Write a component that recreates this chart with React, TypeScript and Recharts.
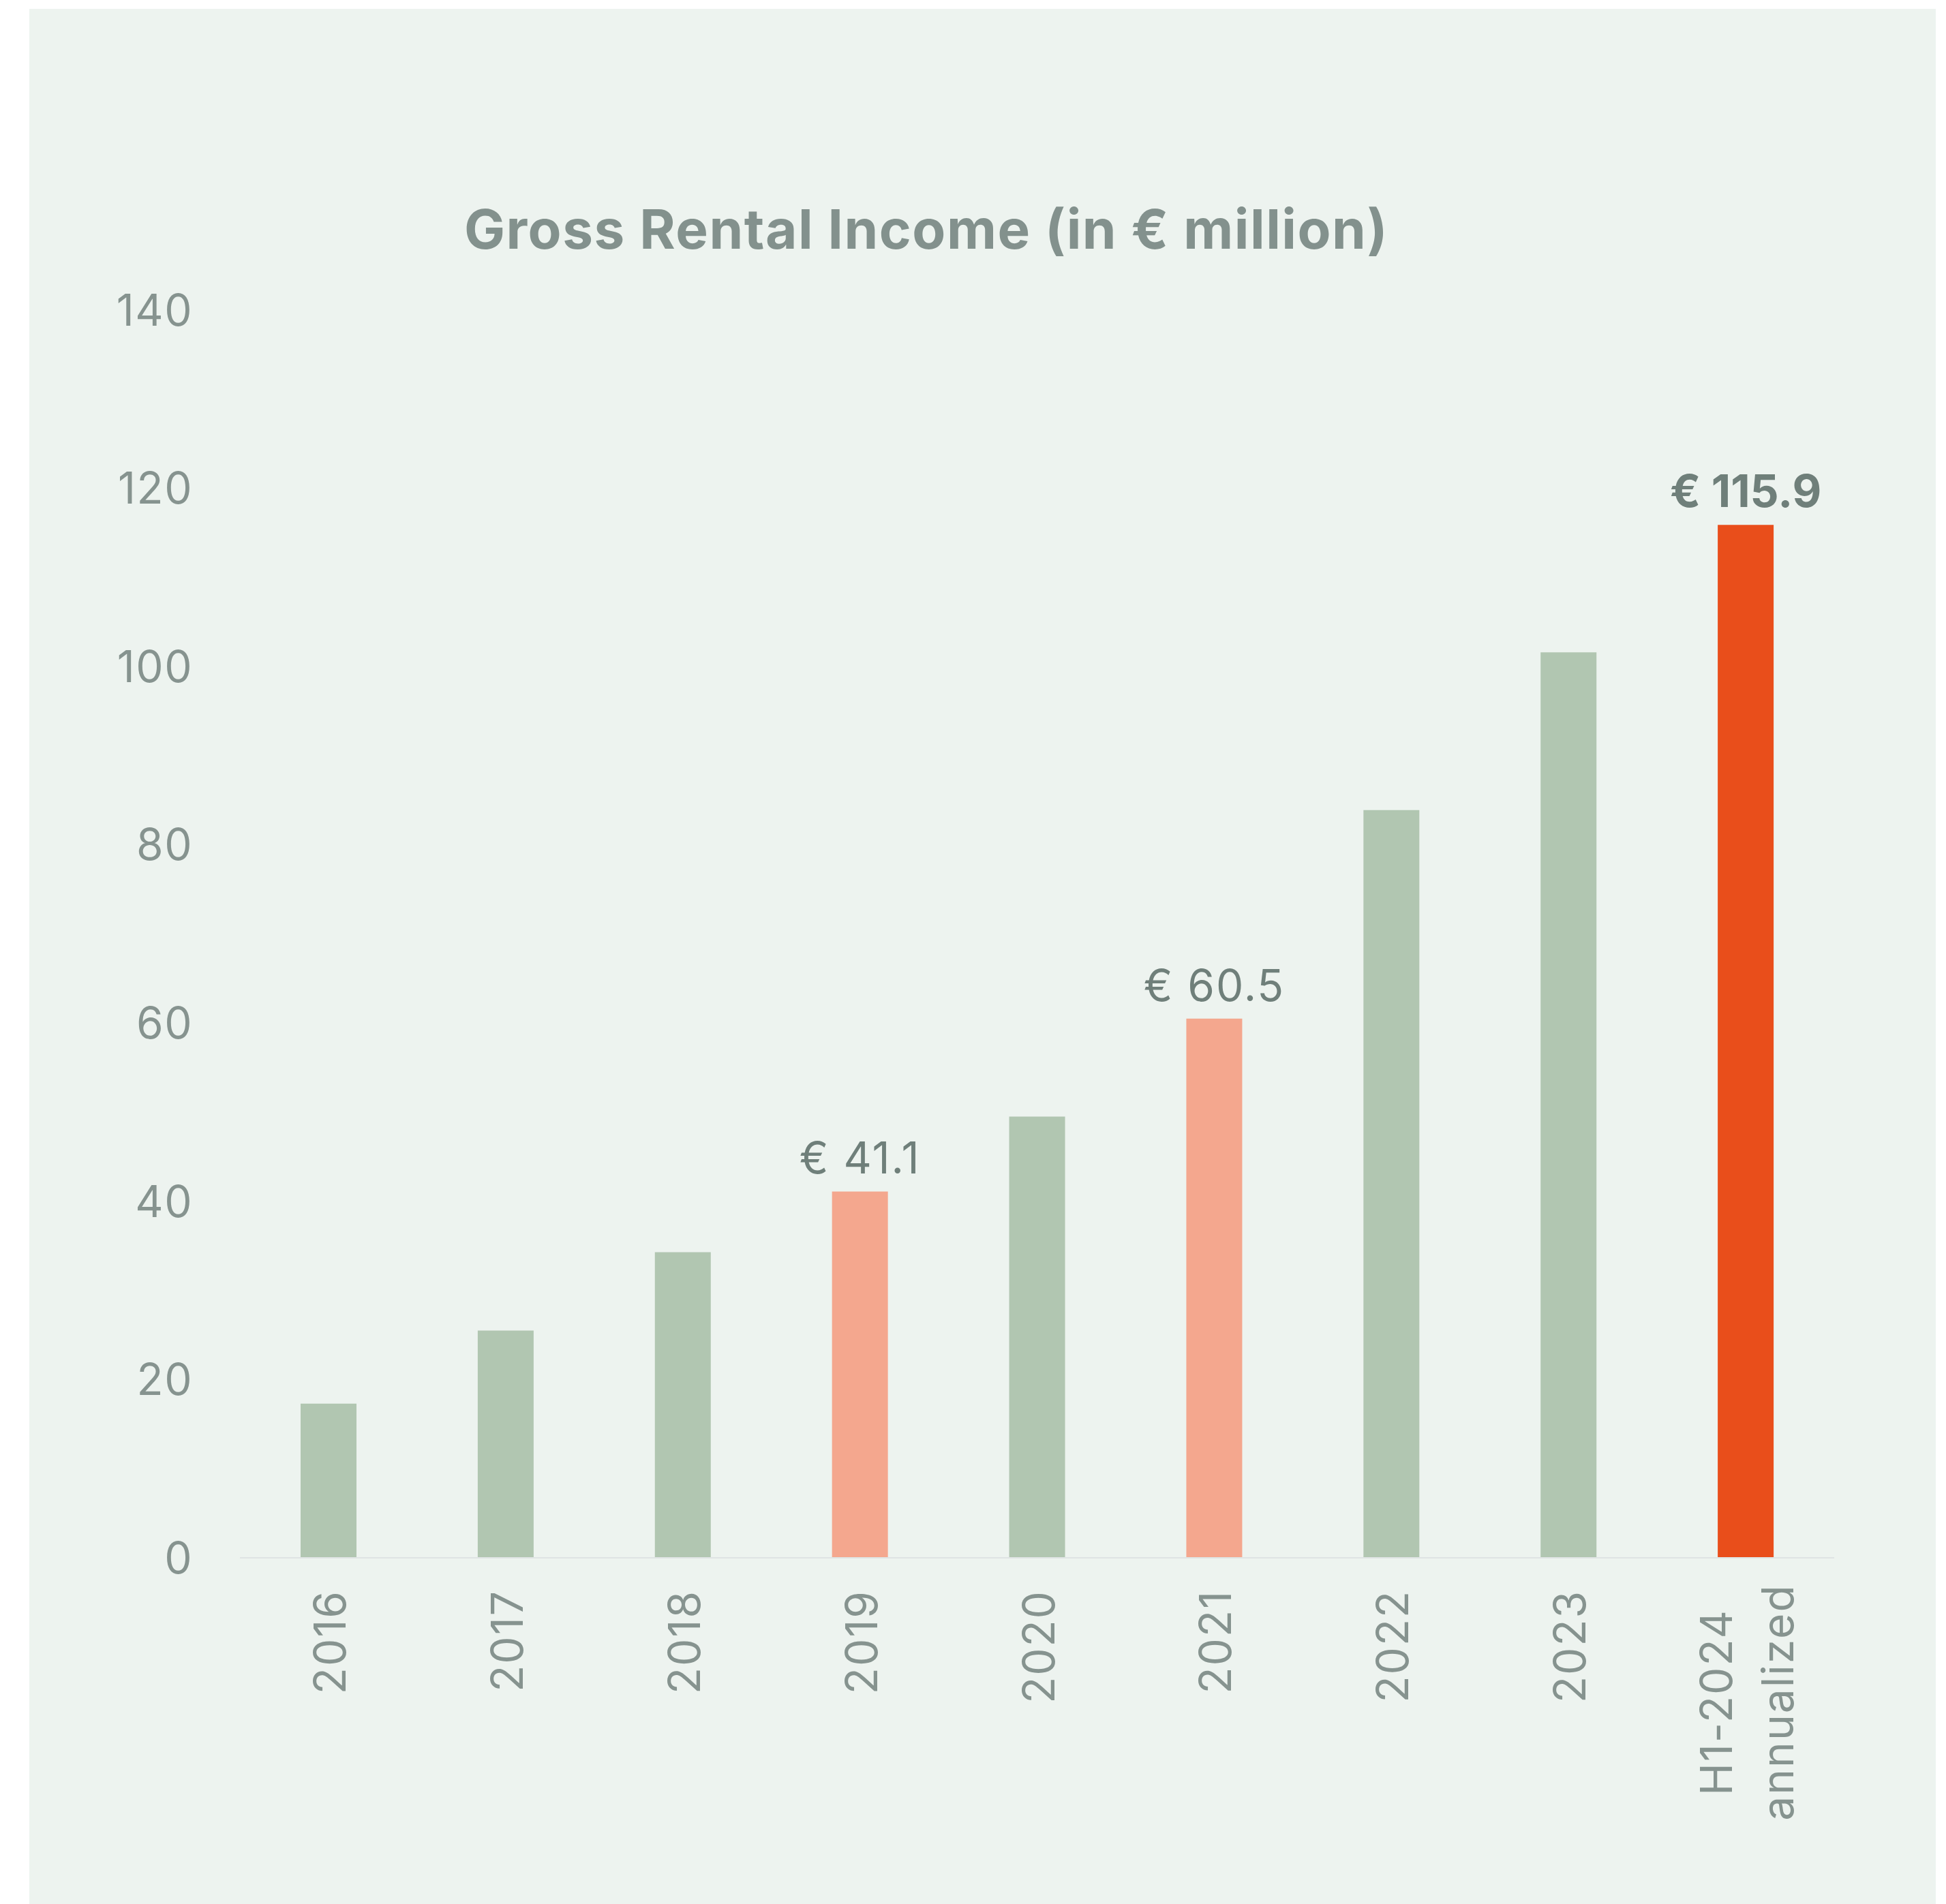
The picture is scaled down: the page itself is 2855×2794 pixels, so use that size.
import React from "react";
import { BarChart, Bar, XAxis, YAxis, Cell, LabelList } from "recharts";

const categories = [
  "2016",
  "2017",
  "2018",
  "2019",
  "2020",
  "2021",
  "2022",
  "2023",
  "H1-2024\nannualized",
];
const income = [17.3, 25.5, 34.3, 41.1, 49.5, 60.5, 83.9, 101.6, 115.9];
// which bars are emphasised (and get a value label)
const emphasis = ["none", "none", "none", "past", "none", "past", "none", "none", "current"];
const yTicks = [0, 20, 40, 60, 80, 100, 120, 140];

const COLORS: Record<string, string> = {
  none: "#B1C6B1",
  past: "#F4A78E",
  current: "#E94E1B",
};

const data = categories.map((name, i) => ({ name, value: income[i] }));

const AXIS_TEXT = "#86938F";
const LABEL_TEXT = "#6F7F7A";
const FONT = "Inter, 'Noto Sans', sans-serif";

function YearTick(props: any) {
  const { x, y, payload } = props;
  const lines = String(payload.value).split("\n");
  const multi = lines.length > 1;
  const top = y + 47;
  const ty = multi ? top + 165 : top;
  return (
    <g>
      {lines.map((line, i) => {
        const bx = x + 25 + (i - (lines.length - 1) / 2) * 90;
        return (
          <text
            key={i}
            x={bx}
            y={ty}
            transform={`rotate(-90, ${bx}, ${ty})`}
            textAnchor={multi ? "middle" : "end"}
            fill={AXIS_TEXT}
            fontSize={64}
            letterSpacing={2}
            fontFamily={FONT}
          >
            {line}
          </text>
        );
      })}
    </g>
  );
}

function ValueLabel(props: any) {
  const { x, y, width, value, index } = props;
  const i = index ?? income.indexOf(Number(value));
  const kind = emphasis[i];
  if (!kind || kind === "none") return null;
  const bold = kind === "current";
  return (
    <text
      x={Number(x) + Number(width) / 2}
      y={Number(y) - 26}
      textAnchor="middle"
      fill={LABEL_TEXT}
      fontSize={bold ? 66 : 64}
      fontWeight={bold ? 700 : 400}
      letterSpacing={bold ? 0 : 2}
      fontFamily={FONT}
    >
      {`€ ${Number(value).toFixed(1)}`}
    </text>
  );
}

export default function App() {
  return (
    <div
      style={{
        position: "absolute",
        left: 0,
        top: 0,
        width: 2855,
        height: 2794,
        background: "#ffffff",
        overflow: "hidden",
        fontFamily: FONT,
      }}
    >
      <div
        style={{
          position: "absolute",
          left: 43,
          top: 13,
          width: 2797,
          height: 2781,
          background: "#EDF3EF",
        }}
      />
      <div
        style={{
          position: "absolute",
          left: 0,
          top: 296,
          width: 2718,
          textAlign: "center",
          fontSize: 80,
          lineHeight: "80px",
          fontWeight: 700,
          letterSpacing: 1.5,
          color: "#83918D",
          whiteSpace: "nowrap",
        }}
      >
        Gross Rental Income (in € million)
      </div>
      <div style={{ position: "absolute", left: 0, top: 0 }}>
        <BarChart
          width={2855}
          height={2794}
          data={data}
          margin={{ top: 455, right: 164, bottom: 108, left: 52 }}
        >
          <XAxis
            dataKey="name"
            interval={0}
            height={400}
            tickLine={false}
            tickSize={0}
            tickMargin={0}
            axisLine={{ stroke: "#DFE4E4", strokeWidth: 2 }}
            tick={<YearTick />}
          />
          <YAxis
            width={300}
            domain={[0, 140]}
            ticks={yTicks}
            interval={0}
            axisLine={false}
            tickLine={false}
            tickSize={0}
            tickMargin={69}
            tick={{ fill: AXIS_TEXT, fontSize: 64, fontFamily: FONT, letterSpacing: 1.5 }}
          />
          <Bar dataKey="value" barSize={82} isAnimationActive={false}>
            {data.map((d, i) => (
              <Cell key={d.name} fill={COLORS[emphasis[i]]} />
            ))}
            <LabelList dataKey="value" content={<ValueLabel />} />
          </Bar>
        </BarChart>
      </div>
    </div>
  );
}
